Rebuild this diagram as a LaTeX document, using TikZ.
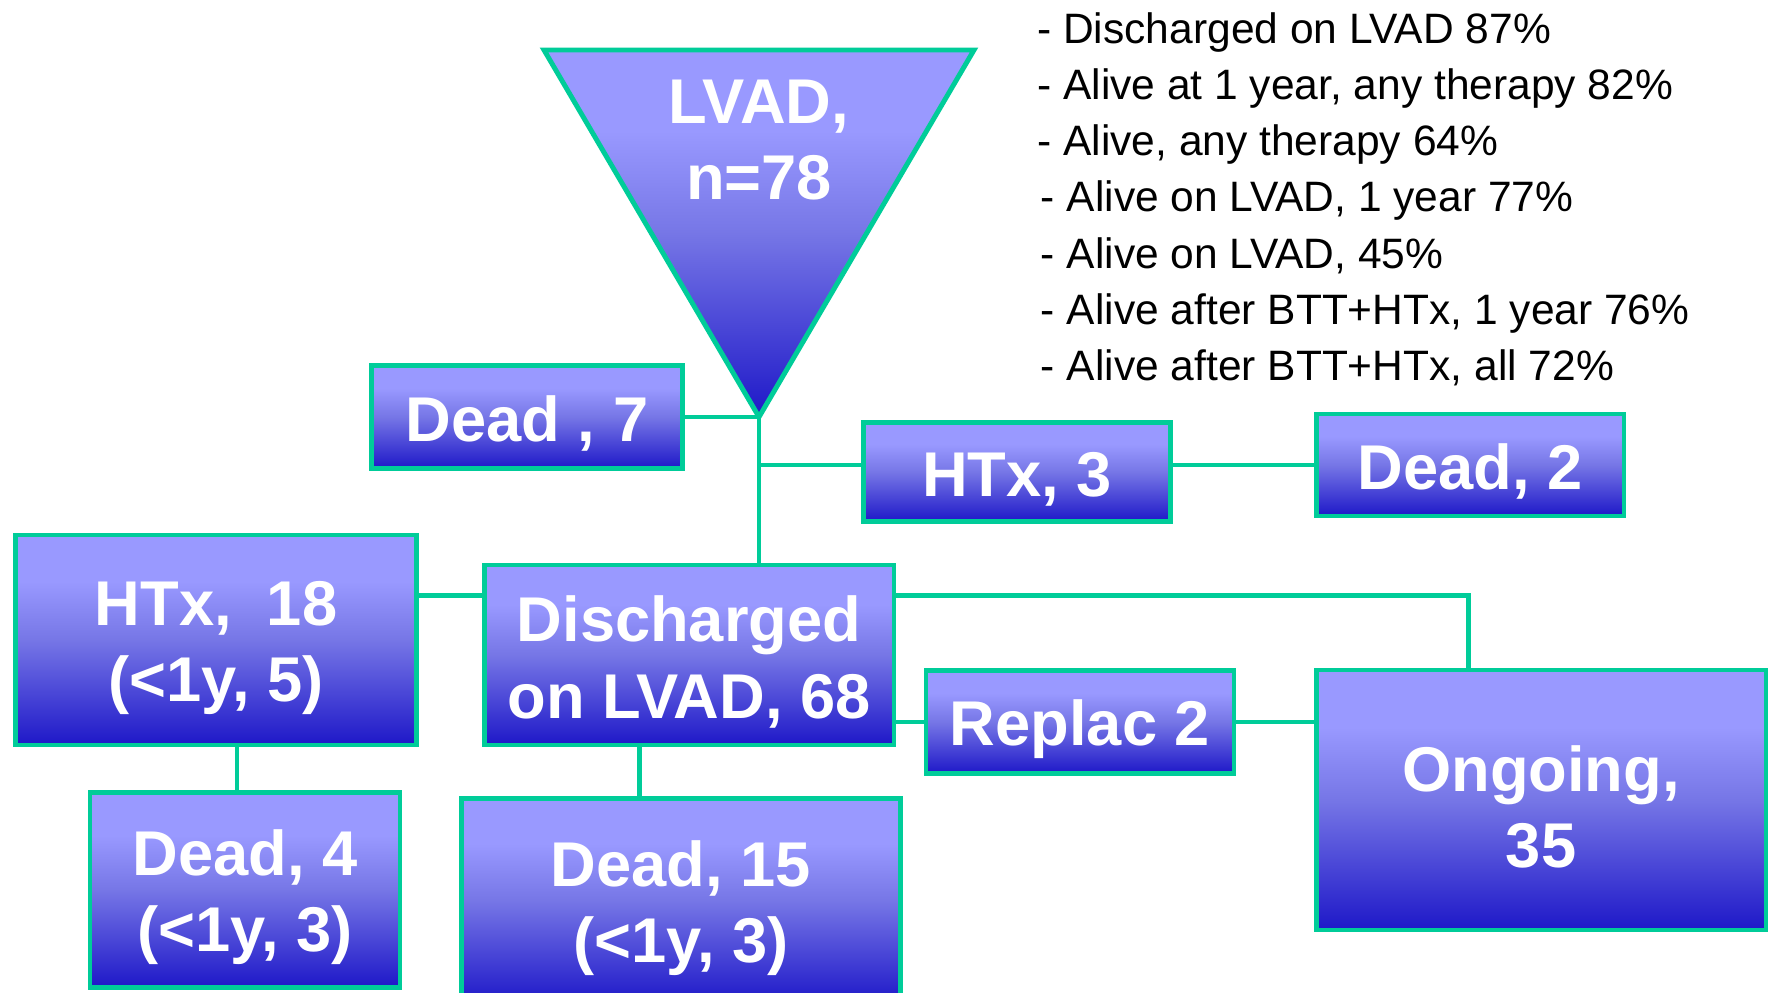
\documentclass[tikz,border=0pt]{standalone}
\usepackage{fontspec}
\setmainfont{Liberation Sans}
\usetikzlibrary{calc}

\definecolor{edgegreen}{HTML}{00CC99}
\definecolor{boxtop}{HTML}{9999FF}
\definecolor{boxmid}{HTML}{7676E6}
\definecolor{boxbot}{HTML}{1E18C8}
\pgfdeclareverticalshading{boxfade}{100bp}{color(0bp)=(boxbot); color(25bp)=(boxbot);
  color(50bp)=(boxmid); color(64bp)=(boxtop); color(100bp)=(boxtop)}
\newcommand{\boxlift}{\rule{0pt}{34pt}}

\begin{document}
\begin{tikzpicture}[x=0.02cm,y=-0.02cm,
    stage/.style={rectangle,draw=edgegreen,line width=2.8pt,shading=boxfade,
      text=white,font=\fontsize{36}{43.6}\selectfont\bfseries,align=center,inner sep=0pt},
    link/.style={draw=edgegreen,line width=2.6pt}]
    \clip (0,0) rectangle (1776,993);
    \fill[white] (0,0) rectangle (1776,993);
    % top triangle
    \coordinate (tl) at (544,50);
    \coordinate (tr) at (974,50);
    \coordinate (apex) at (759,417);
    \draw[draw=edgegreen,line width=2.8pt,shading=boxfade] (tl)--(tr)--(apex)--cycle;
    \node[text=white,font=\fontsize{36}{43.6}\selectfont\bfseries,align=center] (lvad) at (759,140) {LVAD,\\n=78};
    % boxes
    \node[stage,minimum width=6.22cm,minimum height=2.06cm] (dead7) at (527,417) {\boxlift Dead , 7};
    \node[stage,minimum width=6.14cm,minimum height=1.98cm] (htx3) at (1017,472) {\boxlift HTx, 3};
    \node[stage,minimum width=6.16cm,minimum height=2.04cm] (dead2) at (1470,465) {\boxlift Dead, 2};
    \node[stage,minimum width=8.02cm,minimum height=4.20cm] (htx18) at (216,640) {\boxlift HTx,\ \ 18\\(<1y, 5)};
    \node[stage,minimum width=8.20cm,minimum height=3.60cm] (disch) at (689,655) {\boxlift Discharged\\on LVAD, 68};
    \node[stage,minimum width=6.20cm,minimum height=3.90cm] (dead4) at (245,890) {\boxlift Dead, 4\\(<1y, 3)};
    \node[stage,minimum width=8.78cm,minimum height=4.10cm] (dead15) at (681,901) {\boxlift Dead, 15\\(<1y, 3)};
    \node[stage,minimum width=6.16cm,minimum height=2.06cm] (replac) at (1080,722) {\boxlift Replac 2};
    \node[stage,minimum width=9.00cm,minimum height=5.20cm] (ongoing) at (1541,800) {\boxlift Ongoing,\\35};
    % summary
    \node[font=\fontsize{24.2}{32}\selectfont,align=left,anchor=north west,inner sep=0pt] (stats) at (1037,12)
      {- Discharged on LVAD 87\%\\- Alive at 1 year, any therapy 82\%\\- Alive, any therapy 64\%\\
       \kern2pt- Alive on LVAD, 1 year 77\%\\\kern2pt- Alive on LVAD, 45\%\\
       \kern2pt- Alive after BTT+HTx, 1 year 76\%\\\kern2pt- Alive after BTT+HTx, all 72\%};
    % connectors
    \draw[link] (dead7.east)--(apex);
    \draw[link] (apex)--(apex |- disch.north);
    \draw[link] (apex |- dead2.west)--(htx3.west |- dead2.west);
    \draw[link] (htx3.east |- dead2.west)--(dead2.west);
    \draw[link] (disch.164)--(htx18.east |- disch.164);
    \draw[link] ($(dead4.north west)!0.475!(dead4.north east)$) coordinate (hstem)--(hstem |- htx18.south);
    \draw[link] ($(disch.south west)!0.38!(disch.south east)$) coordinate (dstem)--(dstem |- dead15.north);
    \draw[link] (disch.16) -| ($(ongoing.north west)!0.34!(ongoing.north east)$);
    \draw[link] (disch.east |- replac.west)--(replac.west);
    \draw[link] (replac.east)--(ongoing.west |- replac.east);
\end{tikzpicture}
\end{document}
